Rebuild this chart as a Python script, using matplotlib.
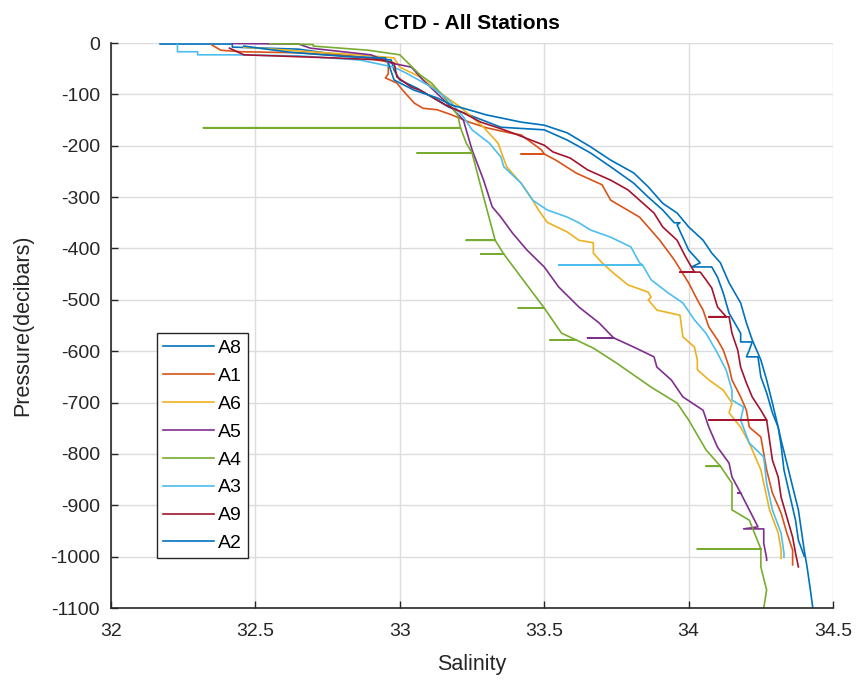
import matplotlib.pyplot as plt

# salinity / pressure profiles per station
a8_sal = [32.17, 32.42, 32.42, 32.65, 32.79, 32.97, 32.98, 33.00, 33.06, 33.11, 33.17, 33.24, 33.35, 33.50,
          33.58, 33.66, 33.73, 33.81, 33.86, 33.91, 33.95, 33.97, 33.96, 34.00, 34.04, 34.01, 34.08, 34.10,
          34.12, 34.14, 34.18, 34.18, 34.22, 34.21, 34.20, 34.24, 34.25, 34.27, 34.29, 34.31, 34.32, 34.33,
          34.35, 34.37, 34.38, 34.40]
a8_pres = [-2, -2, -8, -12, -23, -33, -53, -72, -88, -105, -125, -140, -164, -169,
           -189, -214, -241, -273, -300, -325, -350, -350, -354, -403, -428, -436, -436, -456,
           -487, -526, -565, -582, -582, -598, -611, -611, -650, -681, -720, -748, -783, -831,
           -880, -929, -968, -999]

a1_sal = [32.35, 32.38, 32.45, 32.65, 32.86, 32.96, 32.96, 32.95, 32.99, 33.01, 33.05, 33.08, 33.13, 33.18,
          33.24, 33.30, 33.38, 33.42, 33.49, 33.50, 33.42, 33.50, 33.54, 33.61, 33.70, 33.73, 33.83, 33.90,
          33.95, 34.00, 34.03, 34.05, 34.07, 34.10, 34.12, 34.14, 34.15, 34.18, 34.20, 34.21, 34.25, 34.27,
          34.29, 34.32, 34.34, 34.36, 34.36]
a1_pres = [-4, -14, -17, -19, -27, -37, -60, -68, -78, -92, -117, -127, -130, -140,
           -154, -165, -175, -179, -208, -216, -216, -216, -228, -253, -276, -306, -339, -384,
           -422, -467, -500, -520, -553, -578, -598, -631, -656, -689, -715, -748, -767, -831,
           -876, -915, -954, -987, -1016]

a6_sal = [32.46, 32.69, 32.86, 32.98, 33.00, 33.07, 33.16, 33.21, 33.29, 33.34, 33.37, 33.42, 33.46, 33.48,
          33.51, 33.58, 33.62, 33.67, 33.67, 33.70, 33.74, 33.79, 33.86, 33.87, 33.86, 33.89, 33.97, 33.98,
          34.02, 34.03, 34.03, 34.07, 34.12, 34.15, 34.14, 34.18, 34.21, 34.25, 34.26, 34.28, 34.31, 34.32,
          34.32]
a6_pres = [-8, -17, -23, -29, -47, -66, -105, -125, -164, -195, -241, -273, -306, -325,
           -349, -368, -384, -389, -409, -428, -448, -471, -485, -495, -500, -520, -530, -572,
           -592, -617, -636, -656, -676, -701, -720, -748, -779, -831, -857, -909, -954, -987,
           -1003]

a5_sal = [32.42, 32.65, 32.69, 32.90, 32.97, 33.04, 33.08, 33.16, 33.22, 33.25, 33.29, 33.32, 33.35, 33.39,
          33.44, 33.50, 33.55, 33.62, 33.69, 33.74, 33.65, 33.74, 33.81, 33.88, 33.89, 33.94, 33.98, 34.05,
          34.07, 34.10, 34.14, 34.15, 34.18, 34.17, 34.18, 34.21, 34.24, 34.19, 34.26, 34.26, 34.27, 34.27]
a5_pres = [-1, -2, -10, -23, -39, -47, -72, -115, -150, -208, -267, -319, -339, -370,
           -403, -436, -475, -514, -545, -574, -574, -574, -592, -611, -631, -656, -689, -715,
           -748, -787, -818, -845, -876, -876, -876, -909, -942, -946, -946, -974, -1003, -1007]

a4_sal = [32.55, 32.70, 32.70, 32.89, 33.00, 33.07, 33.11, 33.16, 33.20, 33.21, 32.32, 33.21, 33.23, 33.25,
          33.06, 33.25, 33.29, 33.33, 33.23, 33.33, 33.36, 33.28, 33.36, 33.42, 33.50, 33.41, 33.50, 33.56,
          33.61, 33.52, 33.61, 33.67, 33.75, 33.87, 33.96, 34.00, 34.06, 34.11, 34.06, 34.11, 34.15, 34.15,
          34.21, 34.25, 34.03, 34.25, 34.25, 34.27, 34.26]
a4_pres = [-1, -3, -6, -14, -23, -62, -78, -110, -140, -165, -165, -165, -195, -214,
           -214, -214, -300, -384, -384, -384, -411, -411, -411, -456, -516, -516, -516, -565,
           -578, -578, -578, -594, -623, -670, -701, -734, -792, -824, -824, -824, -857, -909,
           -929, -985, -985, -985, -1020, -1065, -1100]

a3_sal = [32.23, 32.23, 32.30, 32.30, 32.42, 32.65, 32.86, 32.98, 33.02, 33.11, 33.17, 33.22, 33.25, 33.31,
          33.35, 33.36, 33.42, 33.46, 33.51, 33.58, 33.62, 33.66, 33.73, 33.80, 33.83, 33.84, 33.55, 33.84,
          33.87, 33.93, 33.98, 34.02, 34.06, 34.10, 34.13, 34.15, 34.15, 34.19, 34.18, 34.21, 34.26, 34.27,
          34.29, 34.32, 34.33, 34.33]
a3_pres = [-3, -17, -17, -23, -23, -25, -33, -47, -58, -86, -111, -144, -169, -195,
           -222, -241, -273, -306, -325, -339, -350, -364, -378, -397, -428, -432, -432, -432,
           -461, -487, -506, -539, -565, -604, -637, -676, -695, -709, -734, -779, -806, -857,
           -909, -954, -993, -1001]

a9_sal = [32.41, 32.46, 32.77, 32.94, 32.98, 32.99, 33.04, 33.07, 33.13, 33.16, 33.22, 33.28, 33.34, 33.39,
          33.50, 33.53, 33.59, 33.65, 33.73, 33.79, 33.83, 33.88, 33.91, 33.96, 33.99, 34.02, 33.97, 34.04,
          34.06, 34.08, 34.10, 34.13, 34.07, 34.14, 34.15, 34.17, 34.18, 34.20, 34.22, 34.25, 34.27, 34.07,
          34.27, 34.28, 34.29, 34.31, 34.32, 34.34, 34.36, 34.37, 34.38]
a9_pres = [-10, -23, -29, -33, -39, -66, -86, -92, -111, -121, -136, -154, -165, -175,
           -199, -212, -224, -247, -267, -286, -306, -331, -358, -384, -417, -446, -446, -446,
           -461, -477, -514, -533, -533, -533, -565, -598, -631, -662, -689, -715, -734, -734,
           -734, -773, -812, -845, -884, -923, -962, -993, -1020]

a2_sal = [32.46, 32.62, 32.83, 32.95, 32.96, 32.98, 33.05, 33.13, 33.18, 33.22, 33.30, 33.42, 33.50, 33.58,
          33.66, 33.73, 33.81, 33.86, 33.91, 33.96, 34.00, 34.05, 34.08, 34.11, 34.14, 34.18, 34.20, 34.22,
          34.25, 34.27, 34.29, 34.31, 34.32, 34.34, 34.36, 34.38, 34.39, 34.40, 34.41, 34.42, 34.43]
a2_pres = [-6, -18, -27, -29, -39, -72, -92, -107, -121, -127, -140, -154, -160, -175,
           -202, -228, -253, -280, -312, -331, -358, -384, -409, -428, -467, -506, -545, -578,
           -617, -656, -701, -748, -773, -818, -864, -909, -948, -987, -1020, -1059, -1100]

stations = ['A8', 'A1', 'A6', 'A5', 'A4', 'A3', 'A9', 'A2']
profiles = [(a8_sal, a8_pres), (a1_sal, a1_pres), (a6_sal, a6_pres), (a5_sal, a5_pres),
            (a4_sal, a4_pres), (a3_sal, a3_pres), (a9_sal, a9_pres), (a2_sal, a2_pres)]
colors = ['#0072BD', '#D95319', '#EDB120', '#7E2F8E', '#77AC30', '#4DBEEE', '#A2142F', '#0072BD']

plt.rcParams['font.family'] = ['Liberation Sans', 'DejaVu Sans']
plt.rcParams['axes.unicode_minus'] = False

fig = plt.figure(figsize=(8.56, 6.86), dpi=100)
ax = fig.add_axes([0.1297, 0.1137, 0.8435, 0.8236])

for name, (sal, pres), c in zip(stations, profiles, colors):
    ax.plot(sal, pres, color=c, lw=1.2, label=name)

ax.set_xlim(32, 34.5)
ax.set_ylim(-1100, 0)
ax.set_xticks([32, 32.5, 33, 33.5, 34, 34.5])
ax.set_xticklabels(['32', '32.5', '33', '33.5', '34', '34.5'])
ax.set_yticks(range(-1100, 1, 100))
ax.grid(True, color='#dcdcdc', lw=1)
ax.set_axisbelow(True)
for side in ['top', 'right']:
    ax.spines[side].set_visible(False)
for side in ['left', 'bottom']:
    ax.spines[side].set_color('#262626')
    ax.spines[side].set_linewidth(1.2)
ax.tick_params(direction='in', length=5, width=1, colors='#262626', labelsize=14)
ax.tick_params(axis='x', pad=11)
ax.tick_params(axis='y', pad=8)

ax.set_xlabel('Salinity', fontsize=15.5, color='#262626', labelpad=10)
ax.set_ylabel('Pressure(decibars)', fontsize=15.5, color='#262626', labelpad=12)
ax.set_title('CTD - All Stations', fontsize=15, fontweight='bold', pad=10)

leg = ax.legend(loc='upper left', bbox_to_anchor=(0.0637, 0.4867), borderaxespad=0,
                fontsize=14, handlelength=2.6, handletextpad=0.2, labelspacing=0.53,
                borderpad=0.32, fancybox=False, framealpha=1)
leg.get_frame().set_edgecolor('#262626')
leg.get_frame().set_linewidth(1)

fig.savefig('out.png', dpi=100)
